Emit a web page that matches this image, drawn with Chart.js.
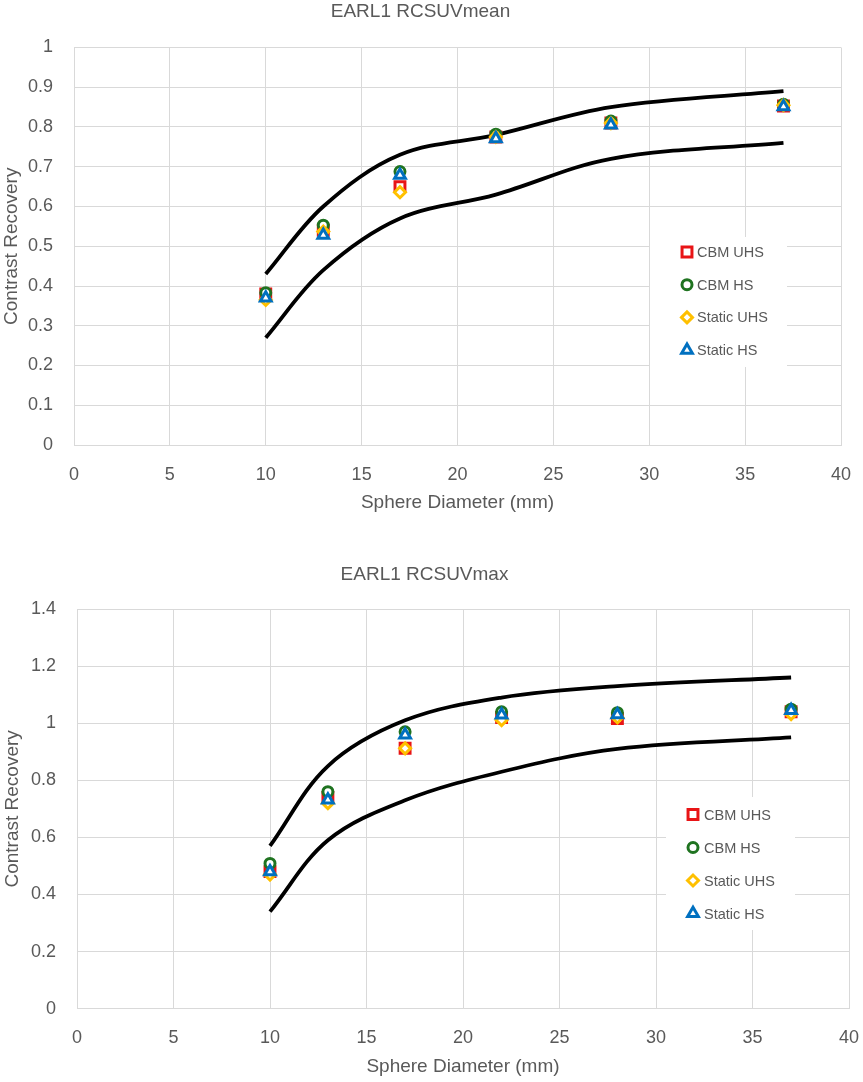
<!DOCTYPE html>
<html>
<head>
<meta charset="utf-8">
<script src="https://cdn.jsdelivr.net/npm/chart.js@4.4.1/dist/chart.umd.min.js"></script>
<style>
  html, body { margin: 0; padding: 0; background: #ffffff; overflow: hidden; }
  .box { position: relative; width: 863px; overflow: hidden; }
  canvas { display: block; }
</style>
</head>
<body>
<div class="box" style="height:540px"><canvas id="meanChart"></canvas></div>
<div class="box" style="height:542px"><canvas id="maxChart"></canvas></div>
<script>
// sphere diameters (mm)
const diameters = [10, 13, 17, 22, 28, 37];

// EARL1 limits
const meanLower = [0.27, 0.44, 0.57, 0.63, 0.72, 0.76];
const meanUpper = [0.43, 0.60, 0.73, 0.78, 0.85, 0.89];
const maxLower = [0.34, 0.59, 0.73, 0.83, 0.91, 0.95];
const maxUpper = [0.57, 0.85, 1.01, 1.09, 1.13, 1.16];

// measured RC, SUVmean
const meanCbmUhs = [0.380, 0.540, 0.650, 0.775, 0.810, 0.853];
const meanCbmHs = [0.383, 0.553, 0.688, 0.782, 0.815, 0.857];
const meanStaticUhs = [0.365, 0.537, 0.636, 0.775, 0.810, 0.855];
const meanStaticHs = [0.370, 0.528, 0.679, 0.771, 0.805, 0.851];

// measured RC, SUVmax
const maxCbmUhs = [0.480, 0.740, 0.912, 1.020, 1.016, 1.040];
const maxCbmHs = [0.509, 0.760, 0.970, 1.040, 1.037, 1.049];
const maxStaticUhs = [0.470, 0.720, 0.912, 1.011, 1.020, 1.032];
const maxStaticHs = [0.480, 0.731, 0.959, 1.029, 1.030, 1.045];

const seriesNames = ["CBM UHS", "CBM HS", "Static UHS", "Static HS"];

const seriesStyles = [
    { color: "#e81416", shape: "rect", r: 7 },
    { color: "#1f7320", shape: "circle", r: 5 },
    { color: "#ffc000", shape: "rectRot", r: 5.5 },
    { color: "#0070c0", shape: "triangle", r: 6.2 }
];

const tickFont = { family: "'Liberation Sans', Arial, sans-serif", size: 18 };
const titleFont = { family: "'Liberation Sans', Arial, sans-serif", size: 19, weight: "normal" };
const grey = "#595959";
const gridGrey = "#d9d9d9";

function toPoints(ys) {
    return diameters.map((x, i) => ({ x: x, y: ys[i] }));
}

function limitLine(ys) {
    return {
        label: "limit",
        data: toPoints(ys),
        showLine: true,
        borderColor: "#000000",
        borderWidth: 3.8,
        pointRadius: 0,
        pointHoverRadius: 0,
        tension: 0.35,
        fill: false,
        order: 10
    };
}

function seriesSet(i, ys) {
    const st = seriesStyles[i];
    return {
        label: seriesNames[i],
        data: toPoints(ys),
        showLine: false,
        pointStyle: st.shape,
        pointRadius: st.r,
        pointHoverRadius: st.r,
        pointBorderWidth: 3,
        pointHoverBorderWidth: 3,
        borderColor: st.color,
        backgroundColor: "#ffffff",
        order: 4 - i
    };
}

// legend drawn inside the plot, on a white box like the original
const boxLegend = {
    id: "boxLegend",
    afterDraw(chart, args, opts) {
        const ctx = chart.ctx;
        ctx.save();
        ctx.fillStyle = "#ffffff";
        ctx.fillRect(opts.x, opts.y, opts.w, opts.h);
        ctx.font = "14.5px 'Liberation Sans', Arial, sans-serif";
        ctx.textBaseline = "middle";
        ctx.textAlign = "left";
        seriesNames.forEach((name, i) => {
            const st = seriesStyles[i];
            const y = opts.firstRow + i * opts.rowGap;
            ctx.fillStyle = "#ffffff";
            ctx.strokeStyle = st.color;
            ctx.lineWidth = 3;
            Chart.helpers.drawPoint(ctx, { pointStyle: st.shape, radius: st.r, borderWidth: 3, rotation: 0 }, opts.markerX, y);
            ctx.fillStyle = grey;
            ctx.fillText(name, opts.textX, y + 1);
        });
        ctx.restore();
    }
};

function makeChart(id, title, lower, upper, series, cfg) {
    const ctx = document.getElementById(id).getContext("2d");
    const datasets = [limitLine(upper), limitLine(lower)];
    series.forEach((ys, i) => datasets.push(seriesSet(i, ys)));
    return new Chart(ctx, {
        type: "scatter",
        data: { datasets: datasets },
        plugins: [boxLegend],
        options: {
            responsive: true,
            maintainAspectRatio: false,
            animation: false,
            layout: { padding: { left: 0, right: cfg.padRight, top: 0, bottom: 0 } },
            scales: {
                x: {
                    type: "linear",
                    min: 0,
                    max: 40,
                    ticks: { stepSize: 5, color: grey, font: tickFont, padding: 0 },
                    // invisible tick marks give the label gap without widening the side padding
                    grid: { color: gridGrey, drawTicks: true, tickLength: 19, tickColor: "rgba(0,0,0,0)" },
                    border: { color: gridGrey },
                    title: {
                        display: true,
                        text: "Sphere Diameter (mm)",
                        color: grey,
                        font: titleFont,
                        padding: { top: 0, bottom: cfg.xTitlePad }
                    },
                    afterFit: (scale) => { scale.height = cfg.xHeight; }
                },
                y: {
                    min: 0,
                    max: cfg.yMax,
                    ticks: {
                        stepSize: cfg.yStep,
                        color: grey,
                        font: tickFont,
                        padding: 0,
                        callback: (v) => +v.toFixed(1)
                    },
                    grid: { color: gridGrey, drawTicks: true, tickLength: 21, tickColor: "rgba(0,0,0,0)" },
                    border: { color: gridGrey },
                    title: {
                        display: true,
                        text: "Contrast Recovery",
                        color: grey,
                        font: titleFont,
                        padding: { top: cfg.yTitlePad, bottom: 0 }
                    },
                    afterFit: (scale) => { scale.width = cfg.yWidth; }
                }
            },
            plugins: {
                legend: { display: false },
                tooltip: { enabled: false },
                title: {
                    display: true,
                    text: title,
                    color: grey,
                    font: titleFont,
                    padding: { top: cfg.titleTop, bottom: cfg.titleBottom }
                },
                boxLegend: cfg.legend
            }
        }
    });
}

makeChart("meanChart", "EARL1 RCSUVmean", meanLower, meanUpper,
    [meanCbmUhs, meanCbmHs, meanStaticUhs, meanStaticHs],
    {
        yMax: 1, yStep: 0.1, yWidth: 74, xHeight: 95, xTitlePad: 25.6, yTitlePad: 0,
        padRight: 22, titleTop: 0.6, titleBottom: 24.1,
        legend: { x: 650, y: 237, w: 137, h: 130, markerX: 687, textX: 697, firstRow: 252, rowGap: 32.7 }
    });

makeChart("maxChart", "EARL1 RCSUVmax", maxLower, maxUpper,
    [maxCbmUhs, maxCbmHs, maxStaticUhs, maxStaticHs],
    {
        yMax: 1.4, yStep: 0.2, yWidth: 77, xHeight: 73.3, xTitlePad: 3.6, yTitlePad: 1,
        padRight: 14, titleTop: 23.6, titleBottom: 22.6,
        legend: { x: 666, y: 257, w: 129, h: 133, markerX: 693, textX: 704, firstRow: 274.5, rowGap: 33 }
    });
</script>
</body>
</html>
